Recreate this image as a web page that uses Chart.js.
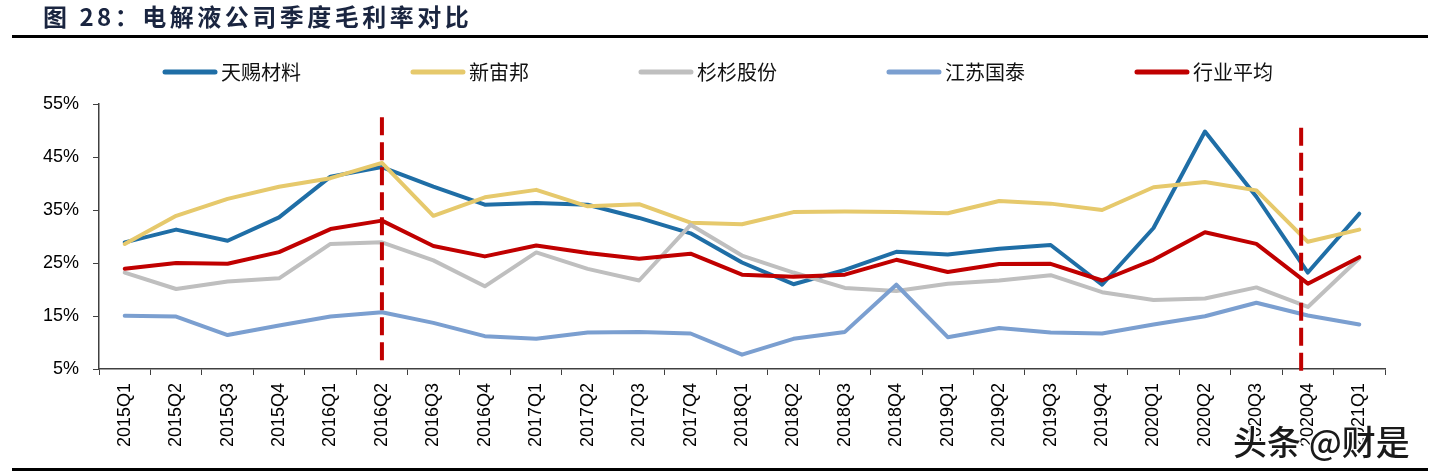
<!DOCTYPE html>
<html>
<head>
<meta charset="utf-8">
<script src="https://cdn.jsdelivr.net/npm/chart.js@4.4.1/dist/chart.umd.min.js"></script>
<style>
  html, body { margin: 0; padding: 0; background: #ffffff; }
  #wrap { position: relative; width: 1440px; height: 476px; overflow: hidden; }
  #chart { position: absolute; left: 0; top: 0; width: 1440px; height: 476px; }
  #title { position: absolute; left: 43px; top: 0px; font-family: "Noto Sans CJK SC", sans-serif; font-weight: bold; font-size: 24px; letter-spacing: 3.5px; color: #1a2540; line-height: 32px; white-space: nowrap; }
  .rule { position: absolute; left: 12px; width: 1416px; height: 3px; background: #000; }
  #wm { position: absolute; left: 1233px; top: 416px; font-family: "Noto Sans CJK SC", sans-serif; font-weight: 500; font-size: 34px; color: #1a1a1a; white-space: nowrap;
        text-shadow: 1px 1px 0 #fff, -1px -1px 0 #fff, 1px -1px 0 #fff, -1px 1px 0 #fff, 2px 2px 0 #fff; }
</style>
</head>
<body>
<div id="wrap">
  <canvas id="chart" width="1440" height="476"></canvas>
  <div id="title">图 28：电解液公司季度毛利率对比</div>
  <div class="rule" style="top:35px;"></div>
  <div class="rule" style="top:468px;"></div>
  <div id="wm">头条 @财是</div>
</div>
<script>
// ---- data ----
const categories = ['2015Q1','2015Q2','2015Q3','2015Q4','2016Q1','2016Q2','2016Q3','2016Q4',
  '2017Q1','2017Q2','2017Q3','2017Q4','2018Q1','2018Q2','2018Q3','2018Q4',
  '2019Q1','2019Q2','2019Q3','2019Q4','2020Q1','2020Q2','2020Q3','2020Q4','2021Q1'];
const seriesNames = ['天赐材料','新宙邦','杉杉股份','江苏国泰','行业平均'];
const tianci   = [28.9, 31.3, 29.2, 33.6, 41.3, 43.1, 39.4, 36.0, 36.3, 36.0, 33.5, 30.6, 25.1, 21.0, 23.7, 27.1, 26.6, 27.7, 28.4, 20.9, 31.6, 49.8, 37.5, 23.2, 34.3];
const xinzhoubang = [28.6, 33.9, 37.1, 39.4, 41.0, 43.9, 33.9, 37.4, 38.8, 35.7, 36.1, 32.6, 32.3, 34.6, 34.7, 34.6, 34.4, 36.7, 36.2, 35.0, 39.3, 40.3, 38.7, 29.0, 31.3];
const shanshan = [23.2, 20.1, 21.5, 22.1, 28.6, 28.9, 25.5, 20.6, 27.0, 23.9, 21.7, 32.2, 26.4, 23.2, 20.3, 19.7, 21.1, 21.7, 22.7, 19.5, 18.0, 18.3, 20.4, 16.7, 25.9];
const jiangsu  = [15.05, 14.9, 11.4, 13.2, 14.9, 15.7, 13.7, 11.2, 10.7, 11.9, 12.0, 11.7, 7.7, 10.7, 12.0, 20.9, 11.0, 12.75, 11.9, 11.7, 13.4, 14.95, 17.5, 15.1, 13.4];
const industryAvg = [23.9, 25.0, 24.85, 27.05, 31.4, 33.0, 28.2, 26.25, 28.3, 26.9, 25.8, 26.75, 22.8, 22.4, 22.8, 25.6, 23.3, 24.8, 24.85, 21.7, 25.6, 30.8, 28.6, 21.1, 26.1];
const yTicks = [5, 15, 25, 35, 45, 55];
// vertical dashed reference lines: [category position, top value, bottom value]
const markerX = [5, 22.87];
const markerTop = [52.5, 50.5];
const markerBottom = [5.8, 3.5];

const colors = ['#1f6ea6', '#e6c96c', '#bfbfbf', '#7b9fd0', '#c00000'];
const drawOrder = [5, 4, 3, 2, 1];
const allSeries = [tianci, xinzhoubang, shanshan, jiangsu, industryAvg];

const datasets = seriesNames.map((name, i) => ({
  label: name,
  data: allSeries[i],
  borderColor: colors[i],
  backgroundColor: colors[i],
  borderWidth: 4,
  pointRadius: 0,
  tension: 0,
  fill: false,
  order: drawOrder[i],
  borderCapStyle: 'round',
  borderJoinStyle: 'round'
}));

const markerPlugin = {
  id: 'markers',
  afterDatasetsDraw(chart) {
    const ctx = chart.ctx, xs = chart.scales.x, ys = chart.scales.y;
    ctx.save();
    ctx.strokeStyle = '#c00000';
    ctx.lineWidth = 4;
    ctx.setLineDash([18, 7]);
    markerX.forEach((mx, i) => {
      const px = xs.getPixelForValue(mx);
      ctx.beginPath();
      ctx.moveTo(px, ys.getPixelForValue(markerTop[i]));
      ctx.lineTo(px, ys.getPixelForValue(markerBottom[i]));
      ctx.stroke();
    });
    ctx.restore();
  }
};

const legendPlugin = {
  id: 'customLegend',
  afterDraw(chart) {
    const ctx = chart.ctx;
    ctx.save();
    ctx.font = '20px "Noto Sans CJK SC", sans-serif';
    ctx.textBaseline = 'middle';
    ctx.textAlign = 'left';
    let x = 163;
    const y = 72;
    chart.data.datasets.forEach(ds => {
      ctx.strokeStyle = ds.borderColor;
      ctx.lineWidth = 5;
      ctx.lineCap = 'round';
      ctx.beginPath();
      ctx.moveTo(x + 2, y);
      ctx.lineTo(x + 52, y);
      ctx.stroke();
      ctx.fillStyle = '#111';
      ctx.fillText(ds.label, x + 58, y);
      x += 58 + ctx.measureText(ds.label).width + 110;
    });
    ctx.restore();
  }
};

new Chart(document.getElementById('chart'), {
  type: 'line',
  data: { labels: categories, datasets },
  options: {
    responsive: false,
    animation: false,
    devicePixelRatio: 1,
    layout: { padding: { top: 104, left: 0, right: 55, bottom: 0 } },
    plugins: { legend: { display: false }, tooltip: { enabled: false } },
    scales: {
      x: {
        offset: true,
        grid: { offset: true, drawOnChartArea: false, tickLength: 6, color: '#404040', lineWidth: 1 },
        border: { color: '#404040', width: 1.5 },
        ticks: { autoSkip: false, minRotation: 90, maxRotation: 90, padding: 8, color: '#000',
                 font: { family: '"Liberation Sans", Arial, sans-serif', size: 18 } },
        afterFit(scale) { scale.height = 107; }
      },
      y: {
        min: 5, max: 55,
        afterBuildTicks(scale) { scale.ticks = yTicks.map(v => ({ value: v })); },
        grid: { drawOnChartArea: false, tickLength: 6, color: '#404040', lineWidth: 1 },
        border: { color: '#404040', width: 1.5 },
        ticks: { padding: 14, color: '#000', callback: v => v + '%',
                 font: { family: '"Liberation Sans", Arial, sans-serif', size: 18 } },
        afterFit(scale) { scale.width = 99; }
      }
    }
  },
  plugins: [markerPlugin, legendPlugin]
});
</script>
</body>
</html>
